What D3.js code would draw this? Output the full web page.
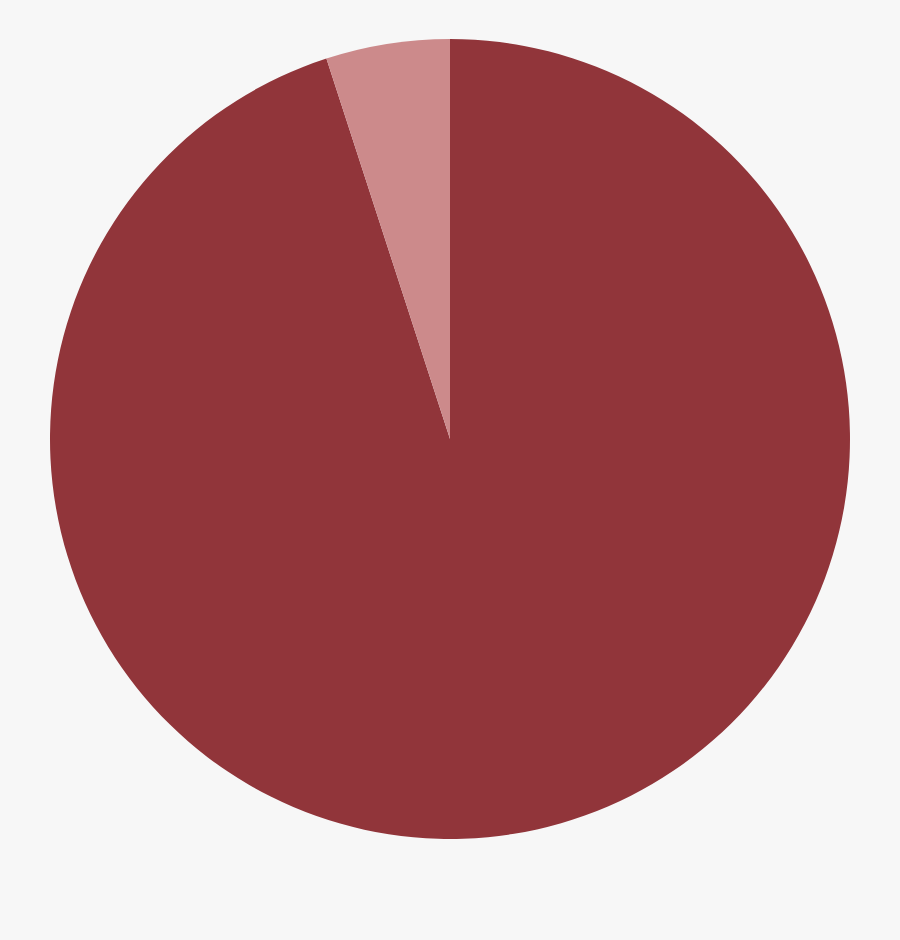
<!DOCTYPE html>
<html>
<head>
<meta charset="utf-8">
<script src="https://cdn.jsdelivr.net/npm/d3@7"></script>
<style>
  html, body { margin: 0; padding: 0; background: #f7f7f7; }
</style>
</head>
<body>
<div class="visual"></div>
<script>
const labels = ["Main", "Other"];
const values = [95, 5];
const colors = ["#91353a", "#cc8a8b"];

const width = 900;
const height = 940;
const radius = 400;

const svg = d3.select(".visual")
    .append("svg")
    .attr("width", width)
    .attr("height", height)
    .style("display", "block");

const g = svg.append("g")
    .attr("transform", `translate(${width / 2}, 439)`);

const pie = d3.pie().sort(null).value(d => d.value);
const arc = d3.arc().innerRadius(0).outerRadius(radius);

const data = labels.map((l, i) => ({ label: l, value: values[i], color: colors[i] }));

g.selectAll("path")
    .data(pie(data))
    .enter()
    .append("path")
    .attr("d", arc)
    .attr("fill", d => d.data.color);
</script>
</body>
</html>
